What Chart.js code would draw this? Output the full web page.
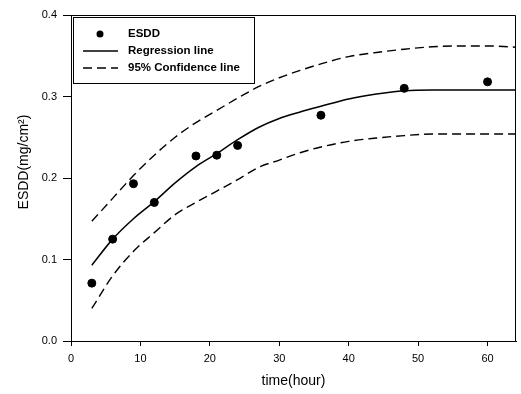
<!DOCTYPE html>
<html><head><meta charset="utf-8">
<script src="https://cdn.jsdelivr.net/npm/chart.js@4"></script>
<style>html,body{margin:0;padding:0;background:#fff}#w{width:521px;height:394px}</style>
</head><body><div id="w"><canvas id="c" width="521" height="394"></canvas></div>
<script>
const esddX = [3, 6, 9, 12, 18, 21, 24, 36, 48, 60];
const esddY = [0.071, 0.125, 0.193, 0.170, 0.227, 0.228, 0.240, 0.277, 0.310, 0.318];
const regX = [3, 6, 9, 12, 15, 18, 21, 24, 27, 30, 33, 36, 40, 44, 48, 52, 65];
const regY = [0.093, 0.125, 0.150, 0.171, 0.194, 0.214, 0.230, 0.247, 0.262, 0.273, 0.281, 0.288, 0.297, 0.303, 0.307, 0.308, 0.308];
const upX = [3, 6, 9, 12, 15, 18, 21, 24, 27, 30, 33, 36, 40, 44, 48, 52, 56, 60, 65];
const upY = [0.147, 0.175, 0.203, 0.228, 0.250, 0.268, 0.283, 0.298, 0.312, 0.323, 0.332, 0.340, 0.349, 0.354, 0.358, 0.361, 0.362, 0.362, 0.360];
const loX = [3, 6, 9, 12, 15, 18, 21, 24, 27, 30, 33, 36, 40, 44, 48, 52, 65];
const loY = [0.040, 0.080, 0.110, 0.133, 0.155, 0.170, 0.184, 0.198, 0.213, 0.222, 0.231, 0.238, 0.245, 0.249, 0.252, 0.254, 0.254];
const xTicks = [0, 10, 20, 30, 40, 50, 60];
const yTicks = [0.0, 0.1, 0.2, 0.3, 0.4];
const legendLabels = ['ESDD', 'Regression line', '95% Confidence line'];
const xTitle = 'time(hour)';
const yTitle = 'ESDD(mg/cm²)';

const pts = (xs, ys) => xs.map((x, i) => ({x, y: ys[i]}));
const FONT = 'Liberation Sans, Arial, sans-serif';

const framePlugin = {
  id: 'frame',
  afterDraw(chart) {
    const {ctx, chartArea: a} = chart;
    ctx.save();
    ctx.strokeStyle = '#000';
    ctx.lineWidth = 1;
    ctx.beginPath();
    ctx.moveTo(a.left, a.top + 0.5); ctx.lineTo(a.right - 0.5, a.top + 0.5); ctx.lineTo(a.right - 0.5, a.bottom);
    ctx.stroke();
    // legend box
    const lx = 73, ly = 17, lw = 181, lh = 66;
    ctx.fillStyle = '#fff';
    ctx.fillRect(lx, ly, lw, lh);
    ctx.strokeRect(lx + 0.5, ly + 0.5, lw, lh);
    ctx.fillStyle = '#000';
    ctx.beginPath(); ctx.arc(100, 34, 3.5, 0, Math.PI * 2); ctx.fill();
    ctx.lineWidth = 1.3;
    ctx.beginPath(); ctx.moveTo(83, 51); ctx.lineTo(118, 51); ctx.stroke();
    ctx.setLineDash([9, 5]);
    ctx.beginPath(); ctx.moveTo(83, 68); ctx.lineTo(118, 68); ctx.stroke();
    ctx.setLineDash([]);
    ctx.font = 'bold 11.5px ' + FONT;
    ctx.textBaseline = 'middle';
    ctx.textAlign = 'left';
    ctx.fillText(legendLabels[0], 128, 34);
    ctx.fillText(legendLabels[1], 128, 51);
    ctx.fillText(legendLabels[2], 128, 68);
    // y axis title
    ctx.font = '14px ' + FONT;
    ctx.textAlign = 'center';
    ctx.translate(24, 162);
    ctx.rotate(-Math.PI / 2);
    ctx.fillText(yTitle, 0, 0);
    ctx.restore();
  }
};

new Chart(document.getElementById('c'), {
  type: 'scatter',
  data: {
    datasets: [
      {label: legendLabels[0], data: pts(esddX, esddY), showLine: false, pointRadius: 4, pointBackgroundColor: '#000', pointBorderColor: '#000'},
      {label: legendLabels[1], data: pts(regX, regY), showLine: true, pointRadius: 0, borderColor: '#000', borderWidth: 1.5, cubicInterpolationMode: 'monotone'},
      {label: legendLabels[2], data: pts(upX, upY), showLine: true, pointRadius: 0, borderColor: '#000', borderWidth: 1.4, borderDash: [9, 5], cubicInterpolationMode: 'monotone'},
      {label: legendLabels[2] + ' (lower)', data: pts(loX, loY), showLine: true, pointRadius: 0, borderColor: '#000', borderWidth: 1.4, borderDash: [9, 5], cubicInterpolationMode: 'monotone'}
    ]
  },
  options: {
    responsive: false,
    animation: false,
    layout: {padding: {top: 15, right: 0, left: 0, bottom: 0}},
    plugins: {legend: {display: false}, tooltip: {enabled: false}},
    scales: {
      x: {
        type: 'linear', min: 0, max: 64.1,
        afterBuildTicks: s => { s.ticks = xTicks.map(v => ({value: v})); },
        afterFit: s => { s.height = 53; },
        grid: {drawOnChartArea: false, drawTicks: true, tickLength: 5, color: '#000'},
        border: {display: true, color: '#000'},
        ticks: {color: '#000', font: {family: FONT, size: 11}, padding: 6, maxRotation: 0},
        title: {display: true, text: xTitle, color: '#000', font: {family: FONT, size: 14}, padding: {top: 4}}
      },
      y: {
        type: 'linear', min: 0, max: 0.4,
        afterBuildTicks: s => { s.ticks = yTicks.map(v => ({value: v})); },
        afterFit: s => { s.width = 71; },
        grid: {drawOnChartArea: false, drawTicks: true, tickLength: 8, color: '#000'},
        border: {display: true, color: '#000'},
        ticks: {color: '#000', font: {family: FONT, size: 11}, padding: 6, callback: v => v.toFixed(1)},
        title: {display: false}
      }
    }
  },
  plugins: [framePlugin]
});
</script></body></html>
